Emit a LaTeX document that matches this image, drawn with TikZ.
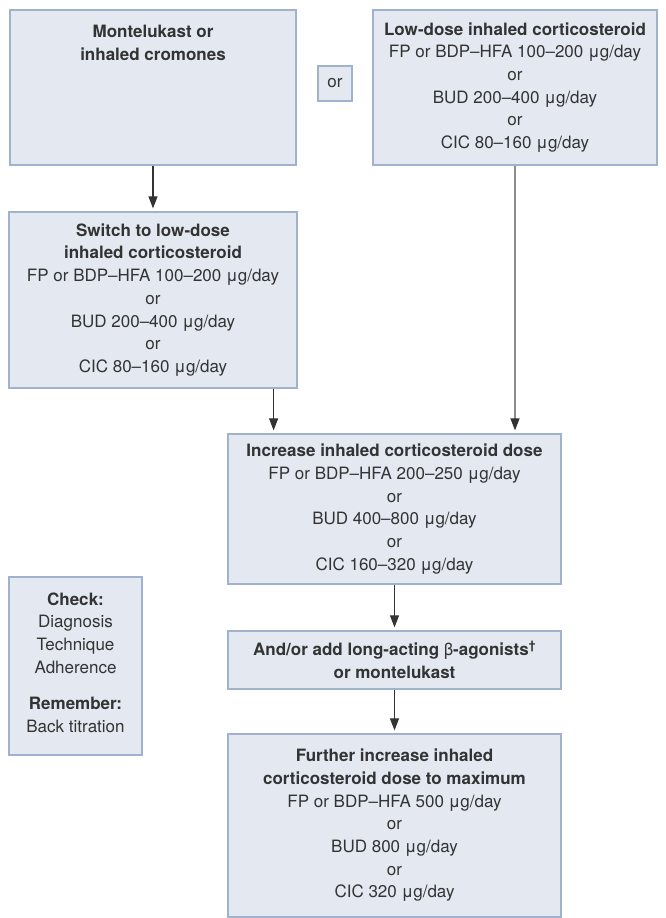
\documentclass[tikz,border=0pt]{standalone}
\usepackage{fontspec}
\setmainfont{TeX Gyre Heros}
\usetikzlibrary{arrows.meta}

\definecolor{boxfill}{HTML}{E3E8F1}
\definecolor{boxline}{HTML}{A0B2CD}
\definecolor{txt}{HTML}{333333}

\begin{document}
\begin{tikzpicture}[x=1pt,y=-1pt,
    box/.style={draw=boxline, fill=boxfill, line width=1.2pt, text=txt,
        align=center, inner sep=0pt, font=\fontsize{17}{22.7}\selectfont},
    arr/.style={-{Triangle[width=9pt,length=12pt,color=txt]}, line width=1.1pt,
        draw=txt, shorten >=3pt}]
    \useasboundingbox (0,0) rectangle (665,918);

    % Top row
    \node[box, minimum width=286pt, minimum height=155pt] (mont) at (153,87.5)
        {\parbox[c][125pt][t]{280pt}{\centering
         \textbf{Montelukast or}\\\textbf{inhaled cromones}}};
    \node[box, minimum width=34pt, minimum height=35pt] (orbox) at (335,83.5) {or};
    \node[box, minimum width=284pt, minimum height=155pt] (lowics) at (515,87.5)
        {\textbf{Low-dose inhaled corticosteroid}\\FP or BDP--HFA 100--200 μg/day\\or\\
         BUD 200--400 μg/day\\or\\CIC 80--160 μg/day};

    % Switch step
    \node[box, minimum width=288pt, minimum height=176pt] (switch) at (153,300)
        {\textbf{Switch to low-dose}\\\textbf{inhaled corticosteroid}\\
         FP or BDP--HFA 100--200 μg/day\\or\\BUD 200--400 μg/day\\or\\CIC 80--160 μg/day};

    % Increase steps
    \node[box, minimum width=333pt, minimum height=150pt] (incr) at (394.5,509)
        {\textbf{Increase inhaled corticosteroid dose}\\FP or BDP--HFA 200--250 μg/day\\or\\
         BUD 400--800 μg/day\\or\\CIC 160--320 μg/day};
    \node[box, minimum width=333pt, minimum height=58pt] (addon) at (394.5,660)
        {\textbf{And/or add long-acting }β\textbf{-agonists\textsuperscript{†}}\\\textbf{or montelukast}};
    \node[box, minimum width=333pt, minimum height=183pt] (maxdose) at (394.5,825.5)
        {\textbf{Further increase inhaled}\\\textbf{corticosteroid dose to maximum}\\
         FP or BDP--HFA 500 μg/day\\or\\BUD 800 μg/day\\or\\CIC 320 μg/day};

    % Side note
    \node[box, minimum width=133pt, minimum height=178pt] (check) at (75.5,666)
        {\textbf{Check:}\\Diagnosis\\Technique\\Adherence\\[14pt]
         \textbf{Remember:}\\Back titration\\[-15.7pt]};

    % Arrows
    \draw[arr] (mont) -- (switch);
    \draw[arr] ([xshift=-24pt]switch.south east) -- ([xshift=-24pt]switch.south east |- incr.north);
    \draw[arr, draw=black!45] (lowics.south) -- (lowics.south |- incr.north);
    \draw[arr] (incr) -- (addon);
    \draw[arr] (addon) -- (maxdose);
\end{tikzpicture}
\end{document}
